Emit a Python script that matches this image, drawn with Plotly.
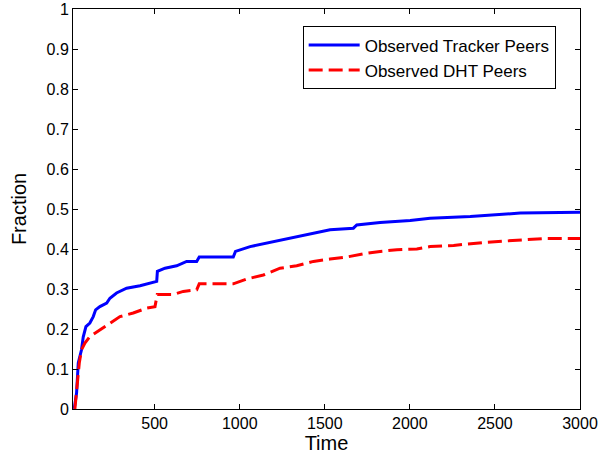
import plotly.graph_objects as go

tracker_x = [27, 41, 51, 70, 80, 96, 119, 139, 153, 178, 218, 237, 276, 335, 414, 492, 512, 516, 561, 629, 688, 747, 762, 962, 975, 1061, 1139, 1237, 1335, 1453, 1531, 1668, 1688, 1825, 2002, 2119, 2355, 2649, 3000]
tracker_y = [0, 0.04, 0.115, 0.148, 0.18, 0.206, 0.215, 0.231, 0.248, 0.256, 0.265, 0.277, 0.29, 0.302, 0.308, 0.316, 0.319, 0.344, 0.352, 0.358, 0.369, 0.369, 0.38, 0.38, 0.394, 0.406, 0.413, 0.423, 0.431, 0.441, 0.448, 0.452, 0.46, 0.466, 0.471, 0.477, 0.481, 0.49, 0.492]

dht_x = [31, 45, 57, 70, 90, 119, 178, 237, 296, 374, 453, 502, 515, 609, 668, 747, 762, 962, 1041, 1139, 1237, 1335, 1433, 1531, 1629, 1727, 1825, 1924, 2041, 2119, 2257, 2453, 2649, 2786, 3000]
dht_y = [0, 0.056, 0.115, 0.148, 0.165, 0.181, 0.198, 0.215, 0.231, 0.24, 0.252, 0.256, 0.286, 0.286, 0.294, 0.298, 0.313, 0.313, 0.325, 0.335, 0.352, 0.358, 0.369, 0.375, 0.38, 0.388, 0.394, 0.398, 0.400, 0.406, 0.409, 0.417, 0.423, 0.426, 0.426]

x_ticks = [500, 1000, 1500, 2000, 2500, 3000]
y_ticks = [0, 0.1, 0.2, 0.3, 0.4, 0.5, 0.6, 0.7, 0.8, 0.9, 1]
y_tick_labels = ["0", "0.1", "0.2", "0.3", "0.4", "0.5", "0.6", "0.7", "0.8", "0.9", "1"]

FONT = "Liberation Sans, Arial, Helvetica, sans-serif"

fig = go.Figure()
fig.add_trace(go.Scatter(x=tracker_x, y=tracker_y, mode="lines",
                         name="Observed Tracker Peers",
                         line=dict(color="#0000FF", width=3)))
fig.add_trace(go.Scatter(x=dht_x, y=dht_y, mode="lines",
                         name="Observed DHT Peers",
                         line=dict(color="#FF0000", width=3, dash="14px,6px")))

axis_common = dict(showline=True, linecolor="black", linewidth=1, mirror="ticks",
                   ticks="inside", ticklen=5, tickcolor="black", tickwidth=1,
                   showgrid=False, zeroline=False,
                   tickfont=dict(family=FONT, size=16, color="black"))

fig.update_xaxes(range=[20, 3000], tickvals=x_ticks,
                 title=dict(text="Time", font=dict(family=FONT, size=20, color="black"), standoff=4),
                 **axis_common)
fig.update_yaxes(range=[0, 1], tickvals=y_ticks, ticktext=y_tick_labels,
                 title=dict(text="Fraction", font=dict(family=FONT, size=20, color="black"), standoff=14),
                 **axis_common)

fig.update_layout(
    width=609, height=459,
    margin=dict(l=73, r=29, t=9, b=50, autoexpand=False),
    paper_bgcolor="white", plot_bgcolor="white",
    font=dict(family=FONT, color="black"),
    legend=dict(x=0.453, y=0.9565, xanchor="left", yanchor="top",
                bgcolor="white", bordercolor="black", borderwidth=1,
                font=dict(family=FONT, size=17, color="black"),
                itemwidth=51, tracegroupgap=0),
    showlegend=True,
)

fig.write_html("out.html", config={"displayModeBar": False},
               post_script="document.body.style.margin='0';")
